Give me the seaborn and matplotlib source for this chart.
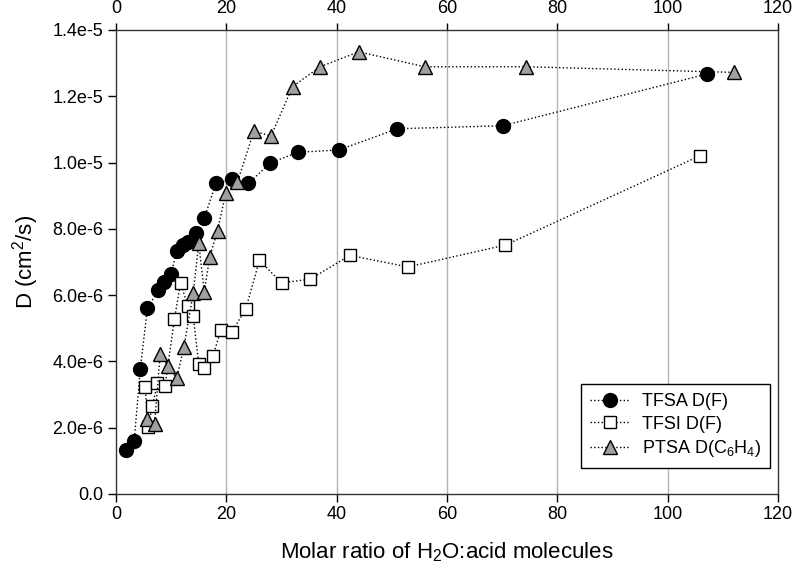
import matplotlib
matplotlib.use("Agg")
from matplotlib import pyplot as plt
from matplotlib.ticker import FuncFormatter
import seaborn as sns
import numpy as np

# TFSA D(F)
tfsa_x = [1.9, 3.3, 4.4, 5.7, 7.7, 8.7, 10.0, 11.0, 12.1, 13.1, 14.5, 16.0,
          18.1, 21.0, 24.0, 28.0, 33.0, 40.4, 51.0, 70.1, 107.1]
tfsa_y = [1.33e-6, 1.61e-6, 3.77e-6, 5.61e-6, 6.15e-6, 6.40e-6, 6.64e-6, 7.34e-6,
          7.51e-6, 7.61e-6, 7.88e-6, 8.32e-6, 9.37e-6, 9.49e-6, 9.37e-6, 9.99e-6,
          1.031e-5, 1.038e-5, 1.102e-5, 1.111e-5, 1.267e-5]

# TFSI D(F)
tfsi_x = [5.3, 5.8, 6.6, 7.5, 8.9, 10.6, 11.7, 13.0, 14.0, 15.0, 16.0, 17.6,
          19.0, 21.0, 23.5, 26.0, 30.0, 35.2, 42.4, 52.9, 70.6, 105.8]
tfsi_y = [3.22e-6, 2.03e-6, 2.65e-6, 3.34e-6, 3.27e-6, 5.28e-6, 6.37e-6, 5.68e-6,
          5.36e-6, 3.92e-6, 3.79e-6, 4.17e-6, 4.95e-6, 4.90e-6, 5.57e-6, 7.05e-6,
          6.37e-6, 6.48e-6, 7.20e-6, 6.85e-6, 7.51e-6, 1.02e-5]

# PTSA D(C6H4)
ptsa_x = [5.6, 7.0, 8.0, 9.4, 11.0, 12.3, 14.0, 15.0, 16.0, 17.0, 18.4, 19.9,
          22.0, 25.0, 28.1, 32.0, 37.0, 44.0, 56.0, 74.4, 112.1]
ptsa_y = [2.25e-6, 2.11e-6, 4.21e-6, 3.86e-6, 3.49e-6, 4.42e-6, 6.07e-6, 7.56e-6,
          6.10e-6, 7.16e-6, 7.94e-6, 9.09e-6, 9.40e-6, 1.095e-5, 1.080e-5, 1.229e-5,
          1.289e-5, 1.334e-5, 1.289e-5, 1.289e-5, 1.272e-5]

sns.set_style("ticks")
plt.rcParams['font.family'] = ['Liberation Sans', 'DejaVu Sans']
plt.rcParams['mathtext.default'] = 'regular'
plt.rcParams['text.color'] = 'black'
plt.rcParams['xtick.color'] = 'black'
plt.rcParams['ytick.color'] = 'black'
plt.rcParams['axes.labelcolor'] = 'black'

fig = plt.figure(figsize=(8, 5.72), dpi=100)
ax = fig.add_axes([0.145, 0.1364, 0.8275, 0.8112])

common = dict(estimator=None, sort=False, color='black', linestyle=':',
              linewidth=1.0, markeredgecolor='black', markeredgewidth=1.0, ax=ax)

sns.lineplot(x=tfsa_x, y=tfsa_y, marker='o', markersize=10,
             markerfacecolor='black', label='TFSA D(F)', **common)
sns.lineplot(x=tfsi_x, y=tfsi_y, marker='s', markersize=8.5,
             markerfacecolor='white', label='TFSI D(F)', **common)
sns.lineplot(x=ptsa_x, y=ptsa_y, marker='^', markersize=9.5,
             markerfacecolor='#a0a0a0', label='PTSA D(C$_6$H$_4$)', **common)

ax.set_xlim(0, 120)
ax.set_ylim(0, 1.4e-5)
ax.set_xticks(np.arange(0, 121, 20))
ax.set_yticks(np.arange(0, 1.41e-5, 2e-6))

def yfmt(v, pos):
    if abs(v) < 1e-12:
        return '0.0'
    s = '%.1e' % v
    mant, exp = s.split('e')
    return '%se%d' % (mant, int(exp))

ax.yaxis.set_major_formatter(FuncFormatter(yfmt))

for x in [20, 40, 60, 80, 100]:
    ax.axvline(x, color='#b4b4b4', linewidth=1.0, zorder=0)

for s in ax.spines.values():
    s.set_visible(True)
    s.set_linewidth(1.0)
    s.set_color('#333333')

ax.tick_params(axis='x', which='both', direction='out', length=6, width=1,
               labelsize=13, top=True, labeltop=True, pad=3)
ax.tick_params(axis='y', direction='out', length=6, width=1, labelsize=13,
               right=False, pad=3)
for t in ax.xaxis.get_major_ticks():
    t.tick2line.set_marker(2)  # inward tick on top axis
    t.tick2line.set_markersize(5)

ax.set_xlabel('Molar ratio of H$_2$O:acid molecules', fontsize=16, labelpad=12)
ax.set_ylabel('D (cm$^2$/s)', fontsize=16, labelpad=8)

leg = ax.legend(loc='lower right', bbox_to_anchor=(0.988, 0.056), fontsize=13,
                frameon=True, fancybox=False, edgecolor='black', framealpha=1,
                handlelength=2.2, handletextpad=0.65, borderpad=0.5,
                labelspacing=0.3, borderaxespad=0)
leg.get_frame().set_linewidth(1.0)

fig.savefig('out.png', dpi=100)
